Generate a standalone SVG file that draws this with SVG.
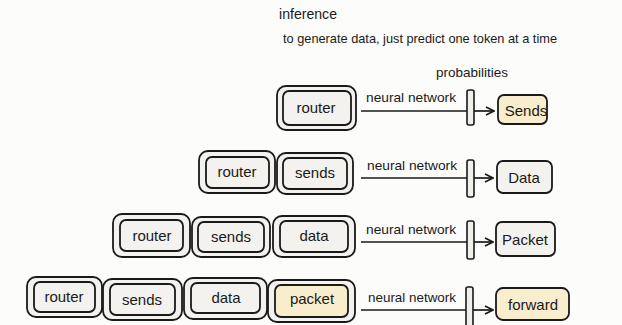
<svg xmlns="http://www.w3.org/2000/svg" width="622" height="325" viewBox="0 0 622 325">
<defs>
<style>
text{font-family:"Liberation Sans","DejaVu Sans",sans-serif;fill:#1a1a1a}
.o{fill:#f4f2ee;stroke:#1a1a1a;stroke-width:1.8}
.i{fill:#f4f2ee;stroke:#1a1a1a;stroke-width:1.8}
.y{fill:#f8edcc}
.lbl{font-size:15px;text-anchor:middle}
.nn{font-size:13px}
.ln{stroke:#1a1a1a;stroke-width:1.7;fill:none}
.bar{fill:#f1efea;stroke:#1a1a1a;stroke-width:1.6}
</style>
<marker id="ah" viewBox="0 0 10 10" refX="9" refY="5" markerWidth="10" markerHeight="10" markerUnits="userSpaceOnUse" orient="auto">
<path d="M1,1 L9,5 L1,9" fill="none" stroke="#1a1a1a" stroke-width="1.6"/>
</marker>
</defs>
<rect width="622" height="325" fill="#fcfcfb"/>
<text x="279" y="19" font-size="14" textLength="58" lengthAdjust="spacingAndGlyphs">inference</text>
<text x="283" y="43" font-size="13" textLength="274" lengthAdjust="spacingAndGlyphs">to generate data, just predict one token at a time</text>
<text x="436" y="77" font-size="13" textLength="72" lengthAdjust="spacingAndGlyphs">probabilities</text>

<g id="connectors">
<line class="ln" x1="361" y1="111" x2="467" y2="111"/>
<rect class="bar" x="467" y="90" width="7" height="35" rx="2"/>
<line class="ln" x1="474" y1="111" x2="494" y2="111" marker-end="url(#ah)"/>
<text class="nn" x="366" y="102" textLength="90" lengthAdjust="spacingAndGlyphs">neural network</text>

<line class="ln" x1="361" y1="178" x2="467" y2="178"/>
<rect class="bar" x="467" y="160" width="7" height="37" rx="2"/>
<line class="ln" x1="474" y1="178" x2="493" y2="178" marker-end="url(#ah)"/>
<text class="nn" x="367" y="170" textLength="90" lengthAdjust="spacingAndGlyphs">neural network</text>

<line class="ln" x1="361" y1="242" x2="467" y2="242"/>
<rect class="bar" x="467" y="221" width="7" height="38" rx="2"/>
<line class="ln" x1="474" y1="242" x2="493" y2="242" marker-end="url(#ah)"/>
<text class="nn" x="366" y="234" textLength="90" lengthAdjust="spacingAndGlyphs">neural network</text>

<line class="ln" x1="361" y1="310" x2="466" y2="310"/>
<rect class="bar" x="466" y="287" width="7" height="40" rx="2"/>
<line class="ln" x1="473" y1="310" x2="493" y2="310" marker-end="url(#ah)"/>
<text class="nn" x="368" y="302" textLength="88" lengthAdjust="spacingAndGlyphs">neural network</text>
</g>

<g id="r1-router"><rect class="o" x="277" y="86" width="79" height="44" rx="9"/><rect class="i" x="283" y="91" width="68" height="34" rx="6"/><text class="lbl" x="316" y="113">router</text></g>
<g id="r1-out"><rect class="o y" x="498" y="95" width="49" height="29" rx="6"/><text class="lbl" x="526" y="116" font-size="14">Sends</text></g>

<g id="r2-router"><rect class="o" x="199" y="151" width="76" height="42" rx="9"/><rect class="i" x="206" y="157" width="63" height="31" rx="6"/><text class="lbl" x="237" y="177">router</text></g>
<g id="r2-sends"><rect class="o" x="277" y="153" width="76" height="41" rx="9"/><rect class="i" x="283" y="158" width="64" height="31" rx="6"/><text class="lbl" x="315" y="178">sends</text></g>
<g id="r2-out"><rect class="o" x="497" y="161" width="55" height="32" rx="6"/><text class="lbl" x="524" y="183" font-size="16">Data</text></g>

<g id="r3-router"><rect class="o" x="113" y="214" width="77" height="43" rx="9"/><rect class="i" x="120" y="220" width="63" height="31" rx="6"/><text class="lbl" x="152" y="241">router</text></g>
<g id="r3-sends"><rect class="o" x="192" y="217" width="78" height="40" rx="9"/><rect class="i" x="198" y="222" width="66" height="30" rx="6"/><text class="lbl" x="231" y="242">sends</text></g>
<g id="r3-data"><rect class="o" x="273" y="216" width="82" height="41" rx="9"/><rect class="i" x="280" y="221" width="68" height="31" rx="6"/><text class="lbl" x="314" y="241">data</text></g>
<g id="r3-out"><rect class="o" x="496" y="222" width="59" height="34" rx="6"/><text class="lbl" x="525" y="245" font-size="16">Packet</text></g>

<g id="r4-router"><rect class="o" x="27" y="277" width="75" height="40" rx="9"/><rect class="i" x="34" y="282" width="61" height="30" rx="6"/><text class="lbl" x="64" y="302">router</text></g>
<g id="r4-sends"><rect class="o" x="103" y="279" width="79" height="41" rx="9"/><rect class="i" x="110" y="284" width="65" height="31" rx="6"/><text class="lbl" x="142" y="305">sends</text></g>
<g id="r4-data"><rect class="o" x="184" y="278" width="83" height="41" rx="9"/><rect class="i" x="191" y="283" width="69" height="30" rx="6"/><text class="lbl" x="226" y="303">data</text></g>
<g id="r4-packet"><rect class="o" x="268" y="280" width="87" height="42" rx="9"/><rect class="i y" x="275" y="285" width="73" height="32" rx="6"/><text class="lbl" x="312" y="304">packet</text></g>
<g id="r4-out"><rect class="o y" x="496" y="288" width="73" height="32" rx="7"/><text class="lbl" x="533" y="310" font-size="16">forward</text></g>
</svg>
